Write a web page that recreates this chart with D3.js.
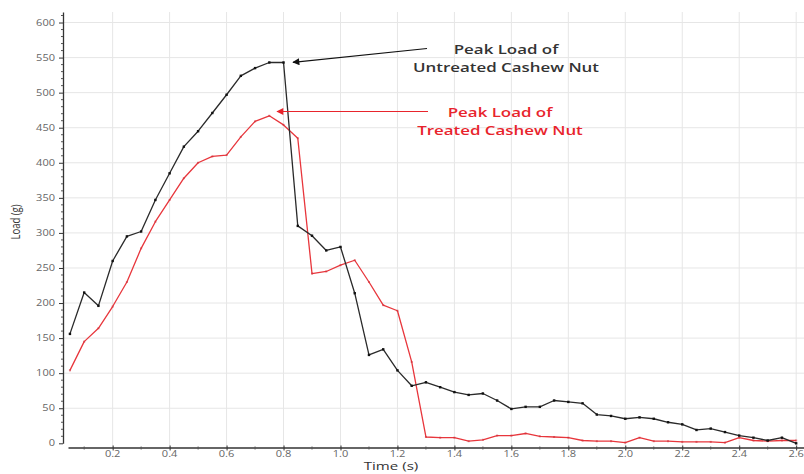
<!DOCTYPE html>
<html>
<head>
<meta charset="utf-8">
<script src="https://cdn.jsdelivr.net/npm/d3@7"></script>
<style>
  html, body { margin: 0; padding: 0; background: #fff; }
  svg { display: block; }
</style>
</head>
<body>
<div id="chart"></div>
<script>
// ---- data ----
const times = [0.05,0.10,0.15,0.20,0.25,0.30,0.35,0.40,0.45,0.50,0.55,0.60,0.65,0.70,0.75,0.80,0.85,0.90,0.95,1.00,
               1.05,1.10,1.15,1.20,1.25,1.30,1.35,1.40,1.45,1.50,1.55,1.60,1.65,1.70,1.75,1.80,1.85,1.90,1.95,2.00,
               2.05,2.10,2.15,2.20,2.25,2.30,2.35,2.40,2.45,2.50,2.55,2.60];
const untreated = [156,215,196,260,295,302,347,385,423,445,471,497,524,535,543,543,310,296,275,280,
                   214,126,134,104,82,87,80,73,69,71,61,49,52,52,61,59,57,41,39,35,
                   37,35,30,27,19,21,16,11,8,4,8,0];
const treated = [104,145,164,195,230,278,316,347,378,400,409,411,437,459,467,454,435,242,245,254,
                 261,230,197,189,116,9,8,8,3,5,11,11,14,10,9,8,4,3,3,1,
                 8,3,3,2,2,2,1,8,4,3,4,4];
const xTicks = [0.2,0.4,0.6,0.8,1.0,1.2,1.4,1.6,1.8,2.0,2.2,2.4,2.6];
const xMinor = [0.1,0.3,0.5,0.7,0.9,1.1,1.3,1.5,1.7,1.9,2.1,2.3,2.5];
const yTicks = [0,50,100,150,200,250,300,350,400,450,500,550,600];
const yMinor = [10,20,30,40,60,70,80,90,110,120,130,140,160,170,180,190,210,220,230,240,260,270,280,290,
                310,320,330,340,360,370,380,390,410,420,430,440,460,470,480,490,510,520,530,540,560,570,580,590,610];
const annUntreated = ["Peak Load of", "Untreated Cashew Nut"];
const annTreated = ["Peak Load of", "Treated Cashew Nut"];
const xLabel = "Time (s)";
const yLabel = "Load (g)";

// ---- layout ----
const W = 804, H = 474;
const SX = 1.3; // horizontal stretch of the source image text
const svg = d3.select("#chart").append("svg").attr("width", W).attr("height", H);

const x = d3.scaleLinear().domain([0.0432, 2.6275]).range([68, 804]);
const y = d3.scaleLinear().domain([0, 615]).range([443.3, 12]);
const axisY0 = 447.5, axisX0 = 63;

const defs = svg.append("defs");
function arrowMarker(id, color) {
  defs.append("marker").attr("id", id)
    .attr("viewBox", "0 0 10 10").attr("refX", 9).attr("refY", 5)
    .attr("markerWidth", 10).attr("markerHeight", 7).attr("markerUnits", "userSpaceOnUse")
    .attr("orient", "auto")
    .append("path").attr("d", "M0,0 L10,5 L0,10 Z").attr("fill", color);
}
arrowMarker("arrBlack", "#111");
arrowMarker("arrRed", "#e8242c");

// grid
const grid = svg.append("g").attr("stroke", "#e6e6e6").attr("stroke-width", 1);
grid.selectAll(".h").data(yTicks.filter(d => d > 0)).join("line")
  .attr("x1", axisX0).attr("x2", W).attr("y1", d => y(d)).attr("y2", d => y(d));
grid.selectAll(".v").data(xTicks).join("line")
  .attr("x1", d => x(d)).attr("x2", d => x(d)).attr("y1", 12).attr("y2", axisY0);

// y axis
const gy = svg.append("g").attr("transform", `translate(${axisX0},0)`)
  .call(d3.axisLeft(y).tickValues(yTicks).tickSize(4).tickSizeOuter(0).tickFormat(""));
gy.select(".domain").attr("stroke", "#333").attr("stroke-width", 1.3);
gy.selectAll(".tick line").attr("stroke", "#333");
gy.selectAll(".minor").data(yMinor).join("line").attr("class", "minor")
  .attr("x1", -2).attr("x2", 0).attr("y1", d => y(d)).attr("y2", d => y(d)).attr("stroke", "#555");
svg.append("g").selectAll("text").data(yTicks).join("text")
  .attr("transform", d => `translate(55,${y(d) + 3}) scale(${SX},1)`)
  .attr("text-anchor", "end").attr("font-family", "Open Sans").attr("font-size", 8.5)
  .attr("fill", "#666").text(d => d);

// x axis
const gx = svg.append("g").attr("transform", `translate(0,${axisY0})`)
  .call(d3.axisBottom(x).tickValues(xTicks).tickSize(3).tickSizeOuter(0).tickFormat(""));
gx.select(".domain").attr("stroke", "#333").attr("stroke-width", 1.3);
gx.selectAll(".tick line").attr("stroke", "#333").attr("y1", -2);
gx.selectAll(".minor").data(xMinor).join("line").attr("class", "minor")
  .attr("x1", d => x(d)).attr("x2", d => x(d)).attr("y1", -1).attr("y2", 2).attr("stroke", "#555");
svg.append("g").selectAll("text").data(xTicks).join("text")
  .attr("transform", d => `translate(${x(d)},456.8) scale(${SX},1)`)
  .attr("text-anchor", "middle").attr("font-family", "Open Sans").attr("font-size", 8.5)
  .attr("fill", "#666").text(d => d.toFixed(1));

// axis titles
svg.append("text").attr("transform", `translate(391,470.4) scale(1.4,1)`)
  .attr("text-anchor", "middle").attr("font-family", "Open Sans").attr("font-size", 10.8)
  .attr("fill", "#333").text(xLabel);
svg.append("text").attr("transform", `translate(20,222) scale(${SX},1) rotate(-90)`)
  .attr("text-anchor", "middle").attr("font-family", "Open Sans").attr("font-size", 9.5)
  .attr("fill", "#333").text(yLabel);

// lines
const lineGen = vals => d3.line().x((d, i) => x(times[i])).y(d => y(d))(vals);
svg.append("path").attr("d", lineGen(treated)).attr("fill", "none")
  .attr("stroke", "#e8363c").attr("stroke-width", 1.3).attr("stroke-linejoin", "round");
svg.append("g").selectAll("rect").data(treated).join("rect")
  .attr("x", (d, i) => x(times[i]) - 1).attr("y", d => y(d) - 1)
  .attr("width", 2).attr("height", 2).attr("fill", "#d0303a").attr("opacity", 0.6);
svg.append("path").attr("d", lineGen(untreated)).attr("fill", "none")
  .attr("stroke", "#2a2a2a").attr("stroke-width", 1.3).attr("stroke-linejoin", "round");
svg.append("g").selectAll("rect").data(untreated).join("rect")
  .attr("x", (d, i) => x(times[i]) - 1.2).attr("y", d => y(d) - 1.2)
  .attr("width", 2.4).attr("height", 2.4).attr("fill", "#111");

// annotations
svg.append("line").attr("x1", 427).attr("y1", 48.5).attr("x2", 293).attr("y2", 62.3)
  .attr("stroke", "#111").attr("stroke-width", 1.2).attr("marker-end", "url(#arrBlack)");
svg.append("line").attr("x1", 428).attr("y1", 111.5).attr("x2", 277).attr("y2", 111.5)
  .attr("stroke", "#e8242c").attr("stroke-width", 1.2).attr("marker-end", "url(#arrRed)");

function annText(lines, cx, baselines, color) {
  svg.append("g").selectAll("text").data(lines).join("text")
    .attr("transform", (d, i) => `translate(${cx},${baselines[i]}) scale(${SX},1)`)
    .attr("text-anchor", "middle").attr("font-family", "Open Sans").attr("font-weight", 600)
    .attr("font-size", 13).attr("fill", color).text(d => d);
}
annText(annUntreated, 506, [54, 72], "#333");
annText(annTreated, 500, [117, 134.5], "#e8242c");
</script>
</body>
</html>
